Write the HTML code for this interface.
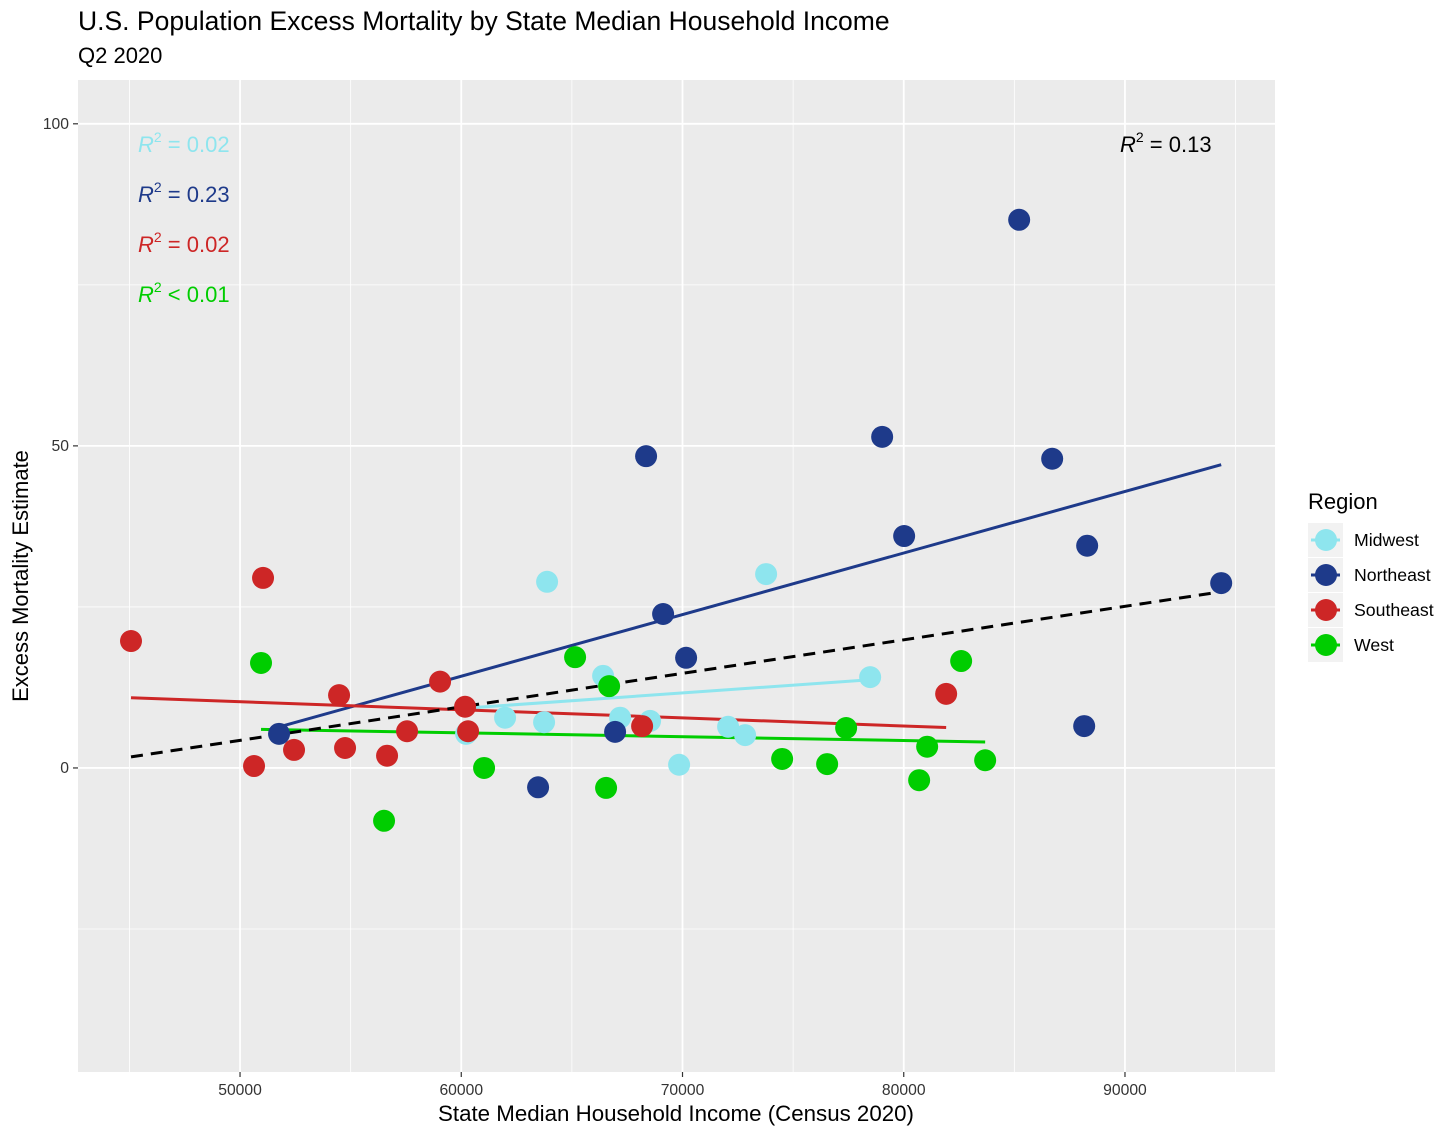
<!DOCTYPE html>
<html><head><meta charset="utf-8">
<style>
body{margin:0;background:#fff;font-family:"Liberation Sans",Arial,sans-serif;}
svg text{font-family:"Liberation Sans",Arial,sans-serif;}
</style></head>
<body>
<svg id="chart" width="1456" height="1136" xmlns="http://www.w3.org/2000/svg">
<text x="78" y="30" font-size="26.5" fill="#000">U.S. Population Excess Mortality by State Median Household Income</text>
<text x="78" y="63" font-size="22" fill="#000">Q2 2020</text>
<rect x="78" y="80" width="1197" height="992" fill="#EBEBEB"/>
<g id="grid"></g>
<g id="lines"></g>
<g id="points"></g>
<g id="axes"></g>
<g id="notes">
<text x="138" y="152" font-size="22" fill="#8EE5EE"><tspan font-style="italic">R</tspan><tspan dy="-10" font-size="14">2</tspan><tspan dy="10"> = 0.02</tspan></text>
<text x="138" y="202" font-size="22" fill="#1E3A8A"><tspan font-style="italic">R</tspan><tspan dy="-10" font-size="14">2</tspan><tspan dy="10"> = 0.23</tspan></text>
<text x="138" y="252" font-size="22" fill="#CD2626"><tspan font-style="italic">R</tspan><tspan dy="-10" font-size="14">2</tspan><tspan dy="10"> = 0.02</tspan></text>
<text x="138" y="302" font-size="22" fill="#00CD00"><tspan font-style="italic">R</tspan><tspan dy="-10" font-size="14">2</tspan><tspan dy="10"> &lt; 0.01</tspan></text>
<text x="1120" y="152" font-size="22" fill="#000"><tspan font-style="italic">R</tspan><tspan dy="-10" font-size="14">2</tspan><tspan dy="10"> = 0.13</tspan></text>
</g>
<text x="676" y="1121" font-size="22.3" text-anchor="middle" fill="#000">State Median Household Income (Census 2020)</text>
<text transform="translate(28,576) rotate(-90)" font-size="22" text-anchor="middle" fill="#000">Excess Mortality Estimate</text>
<g id="legend">
<text x="1308" y="509" font-size="22" fill="#000">Region</text>
</g>
</svg>
<script>
const NS="http://www.w3.org/2000/svg";
const regions=["Midwest","Northeast","Southeast","West"];
const colors=["#8EE5EE","#1E3A8A","#CD2626","#00CD00"];
const xTicks=[50000,60000,70000,80000,90000];
const yTicks=[0,50,100];
const midwestX=[63879,73779,66411,78481,61980,63743,67179,68535,60217,72061,72830,69846];
const midwestY=[28.9,30.1,14.3,14.1,7.8,7.1,7.8,7.3,5.3,6.4,5.1,0.5];
const northeastX=[85217,79024,68354,86709,80018,88291,94349,69123,70163,51763,66953,63472,88156];
const northeastY=[85.1,51.4,48.4,48.0,36.0,34.5,28.7,23.9,17.1,5.3,5.6,-3.0,6.5];
const southeastX=[45072,51040,54476,59042,60172,60307,57550,52441,54747,56646,50633,68174,81917];
const southeastY=[19.7,29.5,11.3,13.4,9.5,5.7,5.7,2.8,3.1,1.9,0.3,6.5,11.5];
const westX=[50949,65145,66682,82595,77396,81058,61031,74503,76537,83680,66546,80696,56510];
const westY=[16.3,17.2,12.7,16.6,6.2,3.3,0,1.4,0.6,1.2,-3.1,-1.9,-8.2];
const seriesX=[midwestX,northeastX,southeastX,westX];
const seriesY=[midwestY,northeastY,southeastY,westY];

const X0=78,X1=1275,Y0=80,Y1=1072;
const xMin=42676,xMax=96781,yMin=-47.2,yMax=106.8;
const sx=v=>X0+(v-xMin)/(xMax-xMin)*(X1-X0);
const sy=v=>Y1-(v-yMin)/(yMax-yMin)*(Y1-Y0);
function el(tag,attrs,parent){const e=document.createElementNS(NS,tag);for(const k in attrs)e.setAttribute(k,attrs[k]);parent.appendChild(e);return e;}
const grid=document.getElementById('grid'),axes=document.getElementById('axes');
for(let v=45000;v<=95000;v+=10000){const l=el('line',{x1:sx(v),x2:sx(v),y1:Y0,y2:Y1,stroke:'#fff','stroke-width':0.8},grid);

}
for(const v of [-25,25,75]){const l=el('line',{x1:X0,x2:X1,y1:sy(v),y2:sy(v),stroke:'#fff','stroke-width':0.8},grid);

}
xTicks.forEach(v=>{const l=el('line',{x1:sx(v),x2:sx(v),y1:Y0,y2:Y1,stroke:'#fff','stroke-width':1.8},grid);


const t=el('line',{x1:sx(v),x2:sx(v),y1:Y1,y2:Y1+5,stroke:'#333','stroke-width':1.2},axes);


const tx=el('text',{x:sx(v),y:Y1+23,'font-size':15.7,'text-anchor':'middle',fill:'#333'},axes);tx.textContent=v;

});
yTicks.forEach(v=>{const l=el('line',{x1:X0,x2:X1,y1:sy(v),y2:sy(v),stroke:'#fff','stroke-width':1.8},grid);


const t=el('line',{x1:X0-5,x2:X0,y1:sy(v),y2:sy(v),stroke:'#333','stroke-width':1.2},axes);


const tx=el('text',{x:X0-9,y:sy(v)+5,'font-size':15.7,'text-anchor':'end',fill:'#333'},axes);tx.textContent=v;

});
function fit(xs,ys){const n=xs.length;const mx=xs.reduce((a,b)=>a+b)/n,my=ys.reduce((a,b)=>a+b)/n;let sxy=0,sxx=0;for(let i=0;i<n;i++){sxy+=(xs[i]-mx)*(ys[i]-my);sxx+=(xs[i]-mx)**2;}const b=sxy/sxx;return [my-b*mx,b];}
const lines=document.getElementById('lines'),pts=document.getElementById('points');
seriesX.forEach((xs,i)=>{const ys=seriesY[i];const [a,b]=fit(xs,ys);const lo=Math.min(...xs),hi=Math.max(...xs);
const l=el('line',{x1:sx(lo),y1:sy(a+b*lo),x2:sx(hi),y2:sy(a+b*hi),stroke:colors[i],'stroke-width':3},lines);


xs.forEach((x,j)=>{const c=el('circle',{cx:sx(x),cy:sy(ys[j]),r:11,fill:colors[i]},pts);

});});
const allX=[].concat(...seriesX),allY=[].concat(...seriesY);
const [A,B]=fit(allX,allY);const lo=Math.min(...allX),hi=Math.max(...allX);
const dl=el('line',{x1:sx(lo),y1:sy(A+B*lo),x2:sx(hi),y2:sy(A+B*hi),stroke:'#000','stroke-width':3,'stroke-dasharray':'12,8'},lines);


const lg=document.getElementById('legend');
regions.forEach((r,i)=>{const y=540+i*35;
const bg=el('rect',{x:1308,y:y-17,width:35,height:34,fill:'#F2F2F2'},lg);


const l=el('line',{x1:1311,x2:1340,y1:y,y2:y,stroke:colors[i],'stroke-width':3},lg);


const c=el('circle',{cx:1326,cy:y,r:11,fill:colors[i]},lg);


const t=el('text',{x:1354,y:y+6,'font-size':17.7,fill:'#000'},lg);t.textContent=r;

});
</script>
</body></html>
